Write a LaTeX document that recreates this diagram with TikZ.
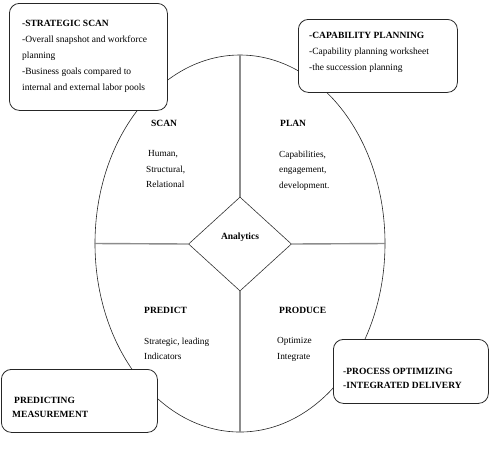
\documentclass[tikz,border=0pt]{standalone}
\usepackage{fontspec}
\setmainfont{Liberation Serif}
\usetikzlibrary{shapes.geometric}
\begin{document}
\begin{tikzpicture}[x=1pt,y=-1pt,
  crossline/.style={draw=black!45, line width=1.4pt},
  boxshape/.style={draw=black!85, line width=0.8pt, rounded corners=10pt, fill=white, anchor=north west, inner sep=0pt},
  boxtext/.style={font=\fontsize{9.5}{16}\selectfont, align=left, anchor=north west, inner sep=0pt},
  heading/.style={font=\fontsize{9.5}{11}\selectfont\bfseries, anchor=base west, inner sep=0pt},
  bodytext/.style={font=\fontsize{9.3}{15.5}\selectfont, align=left, anchor=north west, inner sep=0pt}]
\useasboundingbox (0,0) rectangle (489,448);
% oval
\node[ellipse, draw=black!85, line width=0.6pt, minimum width=290pt, minimum height=377pt, inner sep=0pt] (oval) at (240,243.5) {};
% diamond
\node[diamond, draw=black!80, line width=0.6pt, fill=white, minimum width=103pt, minimum height=94pt, inner sep=0pt] (dia) at (240,244) {};
\draw[crossline] (oval.north) -- (dia.north);
\draw[crossline] (dia.south) -- (oval.south);
\draw[crossline] (oval.west) -- (dia.west);
\draw[crossline] (dia.east) -- (oval.east);
\node[font=\fontsize{9.5}{11}\selectfont\bfseries, inner sep=0pt] (analytics) at (240,237) {Analytics};
% quadrant labels
\node[heading] (scan) at (151,126.5) {SCAN};
\node[bodytext] (scanb) at (146,150.5) {\hspace{2pt}Human,\\Structural,\\Relational};
\node[heading] (plan) at (280,126.5) {PLAN};
\node[bodytext] (planb) at (279,150.5) {Capabilities,\\engagement,\\development.};
\node[heading] (predict) at (144,313.5) {PREDICT};
\node[bodytext] (predictb) at (144,337.5) {Strategic, leading\\Indicators};
\node[heading] (produce) at (279,313.5) {PRODUCE};
\node[bodytext] (produceb) at (277,337.5) {Optimize\\Integrate};
% boxes
\node[boxshape, minimum width=158pt, minimum height=107pt] (b1) at (9,3) {};
\node[boxtext] (t1) at (22,20) {\textbf{-STRATEGIC SCAN}\\-Overall snapshot and workforce\\planning\\-Business goals compared to\\internal and external labor pools};
\node[boxshape, minimum width=159pt, minimum height=73pt] (b2) at (298,19) {};
\node[boxtext] (t2) at (309,32.5) {\textbf{-CAPABILITY PLANNING}\\-Capability planning worksheet\\-the succession planning};
\node[boxshape, minimum width=156pt, minimum height=63pt] (b3) at (1,369) {};
\node[boxtext, font=\fontsize{9.5}{14}\selectfont\bfseries] (t3) at (12,396.5) {\hspace{2pt}PREDICTING\\MEASUREMENT};
\node[boxshape, minimum width=155pt, minimum height=64pt] (b4) at (333,339) {};
\node[boxtext, font=\fontsize{9.5}{14}\selectfont\bfseries] (t4) at (343,367.5) {-PROCESS OPTIMIZING\\-INTEGRATED DELIVERY};
\end{tikzpicture}
\end{document}
